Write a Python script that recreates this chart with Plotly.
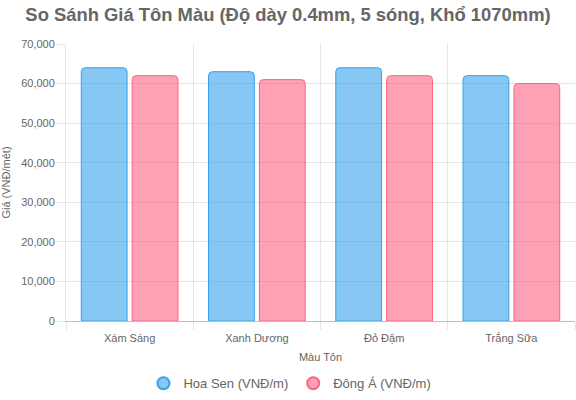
import plotly.graph_objects as go

categories = ["Xám Sáng", "Xanh Dương", "Đỏ Đậm", "Trắng Sữa"]
hoa_sen = [64000, 63000, 64000, 62000]
dong_a = [62000, 61000, 62000, 60000]
series_names = ["Hoa Sen (VNĐ/m)", "Đông Á (VNĐ/m)"]

blue_fill = "rgba(54,162,235,0.6)"
blue_line = "rgb(54,162,235)"
pink_fill = "rgba(255,99,132,0.6)"
pink_line = "rgb(255,99,132)"
font_family = "Liberation Sans, Arial, sans-serif"
grid = "rgba(0,0,0,0.1)"

fig = go.Figure()
fig.add_bar(x=categories, y=hoa_sen, name=series_names[0], showlegend=False,
            marker=dict(color=blue_fill, line=dict(color=blue_line, width=1)))
fig.add_bar(x=categories, y=dong_a, name=series_names[1], showlegend=False,
            marker=dict(color=pink_fill, line=dict(color=pink_line, width=1)))
# legend entries with circle symbols
fig.add_scatter(x=[None], y=[None], mode="markers", name=series_names[0],
                marker=dict(symbol="circle", size=12, color=blue_fill, line=dict(color=blue_line, width=1)))
fig.add_scatter(x=[None], y=[None], mode="markers", name=series_names[1],
                marker=dict(symbol="circle", size=12, color=pink_fill, line=dict(color=pink_line, width=1)))

fig.update_layout(
    width=576, height=400,
    margin=dict(l=66, r=1, t=44, b=79, autoexpand=False),
    paper_bgcolor="white", plot_bgcolor="white",
    font=dict(family=font_family, size=11, color="#666"),
    title=dict(text="<b>So Sánh Giá Tôn Màu (Độ dày 0.4mm, 5 sóng, Khổ 1070mm)</b>",
               x=0.5, xanchor="center", y=0.963, yanchor="middle",
               font=dict(size=18.4, color="#666", family=font_family)),
    barmode="group", bargap=0.2, bargroupgap=0.1, barcornerradius=4,
    showlegend=True,
    legend=dict(orientation="h", x=0.44, xanchor="center", y=-0.225, yanchor="middle",
                font=dict(size=13, color="#666"), itemsizing="constant"),
    xaxis=dict(type="category", tickson="boundaries", showgrid=True, gridcolor=grid,
               ticks="outside", ticklen=8, tickcolor=grid, showline=True,
               linecolor="rgba(0,0,0,0.25)", linewidth=1, automargin=False,
               ticklabelstandoff=7,
               title=dict(text="Màu Tôn", font=dict(size=11, color="#666"), standoff=10),
               tickfont=dict(size=11, color="#666")),
    yaxis=dict(range=[0, 70000], dtick=10000, tickformat=",", showgrid=True, gridcolor=grid,
               ticks="outside", ticklen=8, tickcolor=grid, showline=True,
               linecolor=grid, zeroline=False, automargin=False,
               title=dict(text="Giá (VNĐ/mét)", font=dict(size=11, color="#666"), standoff=8),
               tickfont=dict(size=11, color="#666")),
)

fig.write_html("out.html", config={"displayModeBar": False},
               post_script="document.body.style.margin='0';")
